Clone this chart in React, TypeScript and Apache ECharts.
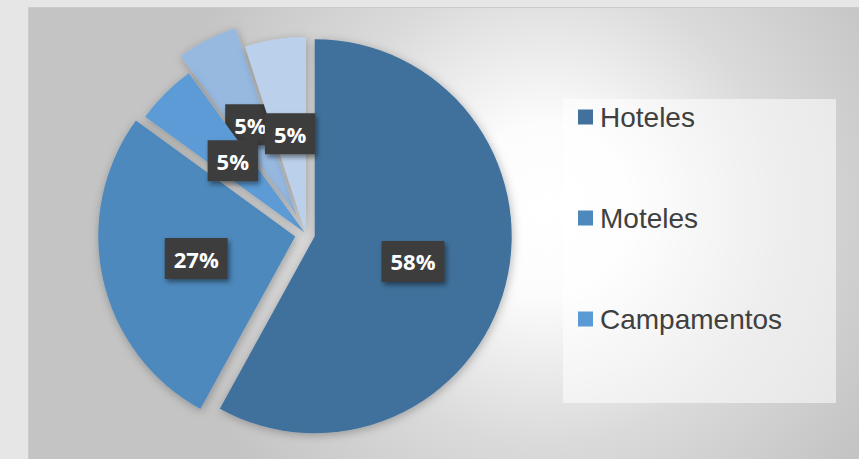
import React, { useEffect, useRef } from "react";
import * as echarts from "echarts";

const categories = ["Hoteles", "Moteles", "Campamentos", "Hostales", "Otros"];
const values = [58, 27, 5, 5, 5];
const legendItems = ["Hoteles", "Moteles", "Campamentos"];
const colors = ["#41719c", "#4e89bd", "#5b9bd5", "#97b9e0", "#bbd0ea"];
const explodeOffsets = [9, 11, 2, 21, 0];
const labelZ = [5, 5, 6, 4, 7];

const CX = 306;
const CY = 234;
const R = 197;

export default function App() {
  const ref = useRef<HTMLDivElement>(null);

  useEffect(() => {
    if (!ref.current) return;
    const chart = echarts.init(ref.current, undefined, { renderer: "svg" });
    const total = values.reduce((a, b) => a + b, 0);
    let cum = 0;
    const series: any[] = values.map((v, i) => {
      const startDeg = (cum / total) * 360;
      const midDeg = ((cum + v / 2) / total) * 360;
      cum += v;
      const rad = (midDeg * Math.PI) / 180;
      const d = explodeOffsets[i];
      const cx = CX + d * Math.sin(rad);
      const cy = CY - d * Math.cos(rad);
      return {
        type: "pie",
        radius: R,
        center: [cx, cy],
        startAngle: 90 - startDeg,
        clockwise: true,
        avoidLabelOverlap: false,
        labelLayout: { hideOverlap: false },
        silent: true,
        emphasis: { disabled: true },
        labelLine: { show: false },
        z: labelZ[i],
        data: [
          {
            name: categories[i],
            value: v,
            itemStyle: {
              color: colors[i],
              shadowBlur: 10,
              shadowColor: "rgba(0,0,0,0.28)",
              shadowOffsetX: 1,
              shadowOffsetY: 2,
            },
            label: {
              show: true,
              position: "inside",
              formatter: (p: any) => p.value + "%",
              color: "#ffffff",
              fontFamily: "Open Sans",
              fontWeight: "bold",
              fontSize: 22,
              lineHeight: 30,
              backgroundColor: "#3e3e3e",
              padding: [6, 9, 5, 9],
              shadowBlur: 5,
              shadowColor: "rgba(0,0,0,0.45)",
              shadowOffsetX: 2,
              shadowOffsetY: 3,
            },
          },
          {
            name: "_rest" + i,
            value: total - v,
            itemStyle: { color: "rgba(0,0,0,0)" },
            label: { show: false },
          },
        ],
      };
    });

    chart.setOption({
      animation: false,
      graphic: [
        {
          type: "rect",
          z: -10,
          silent: true,
          shape: { x: 0, y: 0, width: 859, height: 459 },
          style: { fill: "#e6e6e6" },
        },
        {
          type: "rect",
          z: -9,
          silent: true,
          shape: { x: 28.5, y: 7.5, width: 835, height: 460 },
          style: {
            fill: new echarts.graphic.RadialGradient(
              545,
              210,
              390,
              [
                { offset: 0, color: "#ffffff" },
                { offset: 0.22, color: "#fcfcfc" },
                { offset: 0.6, color: "#dadada" },
                { offset: 1, color: "#c4c4c4" },
              ],
              true
            ),
            stroke: "#cbcbcb",
            lineWidth: 1,
          },
        },
        {
          type: "rect",
          z: -8,
          silent: true,
          shape: { x: 563, y: 99, width: 273, height: 304 },
          style: { fill: "rgba(255,255,255,0.55)" },
        },
      ],
      legend: {
        data: legendItems,
        orient: "vertical",
        left: 578,
        top: 102,
        padding: 0,
        icon: "rect",
        itemWidth: 15,
        itemHeight: 15,
        itemGap: 71,
        selectedMode: false,
        textStyle: {
          fontFamily: "Liberation Sans",
          fontSize: 28,
          lineHeight: 30,
          color: "#404040",
          padding: [0, 0, 0, 2],
        },
      },
      series,
    });
    return () => chart.dispose();
  }, []);

  return (
    <div
      ref={ref}
      style={{ position: "absolute", left: 0, top: 0, width: 859, height: 459 }}
    />
  );
}
